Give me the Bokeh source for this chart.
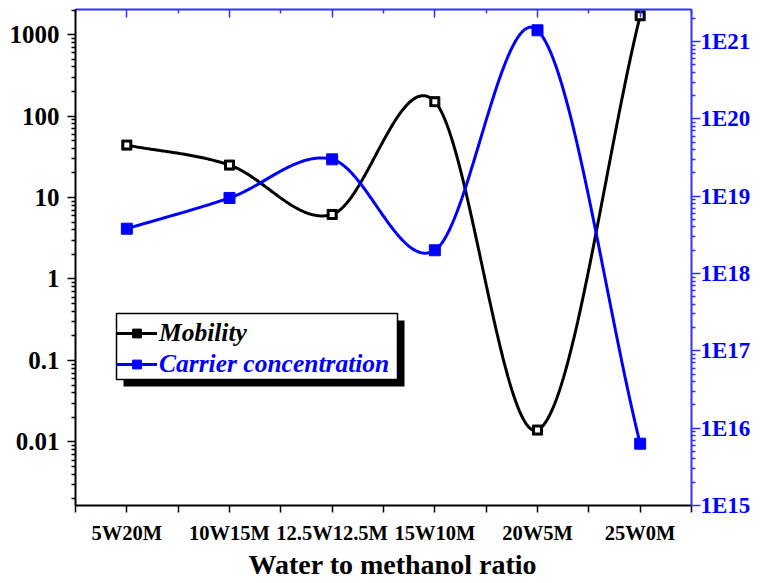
import numpy as np
from bokeh.plotting import figure
from bokeh.models import (Range1d, LogScale, LogAxis, LinearAxis, FixedTicker,
                          CustomJSTickFormatter, Legend, LegendItem, BoxAnnotation,
                          Title)
from bokeh.embed import file_html
from bokeh.resources import INLINE

# Sample series (x categories share one position index)
categories = ["5W20M", "10W15M", "12.5W12.5M", "15W10M", "20W5M", "25W0M"]
mobility = [44, 25, 6.2, 150, 0.014, 1700]                   # left axis
carrier = [3.8e18, 9.5e18, 3.0e19, 2.0e18, 1.4e21, 6.3e15]     # right axis

mobility_ticks = [0.01, 0.1, 1, 10, 100, 1000]
carrier_ticks = [1e15, 1e16, 1e17, 1e18, 1e19, 1e20, 1e21]

FONT = "Liberation Serif"
BLUE = "#0000ff"
AXIS_BLUE = "#3030ff"

W, H = 766, 583
BORDER_L, BORDER_R, BORDER_T, BORDER_B = 75, 75, 9, 78

X_RANGE = (0.5, len(categories) + 0.5)
LEFT_RANGE = (0.00166, 2030)
RIGHT_RANGE = (1e15, 2.6e21)


def smooth_curve(xs, ys, n_seg=80):
    """Cardinal (Catmull-Rom) Hermite curve through the points, in log-y space."""
    x = np.asarray(xs, float)
    v = np.log10(np.asarray(ys, float))
    m = np.empty_like(v)
    m[1:-1] = (v[2:] - v[:-2]) / (x[2:] - x[:-2])
    m[0] = (v[1] - v[0]) / (x[1] - x[0])
    m[-1] = (v[-1] - v[-2]) / (x[-1] - x[-2])
    xo, yo = [], []
    for i in range(len(x) - 1):
        h = x[i + 1] - x[i]
        t = np.linspace(0.0, 1.0, n_seg, endpoint=(i == len(x) - 2))
        h00 = 2 * t ** 3 - 3 * t ** 2 + 1
        h10 = t ** 3 - 2 * t ** 2 + t
        h01 = -2 * t ** 3 + 3 * t ** 2
        h11 = t ** 3 - t ** 2
        xo.append(x[i] + h * t)
        yo.append(h00 * v[i] + h10 * h * m[i] + h01 * v[i + 1] + h11 * h * m[i + 1])
    return np.concatenate(xo), 10 ** np.concatenate(yo)


xpos = np.arange(1, len(categories) + 1)

p = figure(width=W, height=H, y_axis_type="log",
           x_range=Range1d(*X_RANGE), y_range=Range1d(*LEFT_RANGE),
           min_border_left=BORDER_L, min_border_right=BORDER_R,
           min_border_top=BORDER_T, min_border_bottom=BORDER_B,
           output_backend="svg", toolbar_location=None)
p.outline_line_color = None
p.xgrid.visible = False
p.ygrid.visible = False
p.background_fill_color = "white"
p.border_fill_color = "white"

p.extra_y_ranges = {"carrier": Range1d(*RIGHT_RANGE)}
p.extra_y_scales = {"carrier": LogScale()}

# --- axes ---------------------------------------------------------------
x_ticker = FixedTicker(ticks=list(xpos),
                       minor_ticks=list(np.arange(0.5, len(categories) + 1, 1.0)))

xax = p.xaxis[0]
xax.ticker = x_ticker
xax.major_label_overrides = {int(x): c for x, c in zip(xpos, categories)}
xax.axis_line_color = "black"
xax.axis_line_width = 2
xax.major_tick_out = 7
xax.major_tick_in = 0
xax.minor_tick_out = 7
xax.minor_tick_in = 0
xax.major_tick_line_width = 1.5
xax.minor_tick_line_width = 1.5
xax.major_label_text_font = FONT
xax.major_label_text_font_style = "bold"
xax.major_label_text_font_size = "20.5px"
xax.major_label_text_color = "black"
xax.major_label_standoff = 9

# x-axis title, set a little right of the frame centre
x_title = Title(text="Water to methanol ratio", align="left", offset=173,
                text_font=FONT, text_font_style="bold", text_font_size="28px",
                text_color="black", standoff=0)
p.add_layout(x_title, "below")

minor_left = [m * 10.0 ** e for e in range(-3, 4) for m in range(2, 10)]
yax = p.yaxis[0]
yax.ticker = FixedTicker(ticks=mobility_ticks, minor_ticks=minor_left)
yax.formatter = CustomJSTickFormatter(code="""
    const e = Math.round(Math.log10(tick));
    return e >= 0 ? String(Math.pow(10, e)) : Math.pow(10, e).toFixed(-e);
""")
yax.axis_line_color = "black"
yax.axis_line_width = 2
yax.major_tick_out = 8
yax.major_tick_in = 0
yax.minor_tick_out = 4
yax.minor_tick_in = 0
yax.major_tick_line_width = 1.5
yax.minor_tick_line_width = 1.5
yax.major_label_text_font = FONT
yax.major_label_text_font_style = "bold"
yax.major_label_text_font_size = "25px"
yax.major_label_text_color = "black"
yax.major_label_standoff = 8

minor_right = [m * 10.0 ** e for e in range(15, 22) for m in range(2, 10)]
rax = LogAxis(y_range_name="carrier",
              ticker=FixedTicker(ticks=carrier_ticks, minor_ticks=minor_right),
              formatter=CustomJSTickFormatter(
                  code="return '1E' + Math.round(Math.log10(tick));"))
rax.axis_line_color = AXIS_BLUE
rax.axis_line_width = 2
rax.major_tick_line_color = AXIS_BLUE
rax.minor_tick_line_color = AXIS_BLUE
rax.major_tick_out = 9
rax.major_tick_in = 0
rax.minor_tick_out = 4
rax.minor_tick_in = 0
rax.major_tick_line_width = 1.5
rax.minor_tick_line_width = 1.5
rax.major_label_text_font = FONT
rax.major_label_text_font_style = "bold"
rax.major_label_text_font_size = "23px"
rax.major_label_text_color = BLUE
rax.major_label_standoff = 0
p.add_layout(rax, "right")

# top border: blue line with inward ticks, no labels
tax = LinearAxis(ticker=x_ticker, formatter=CustomJSTickFormatter(code="return '';"))
tax.axis_line_color = AXIS_BLUE
tax.axis_line_width = 2
tax.major_tick_line_color = AXIS_BLUE
tax.minor_tick_line_color = AXIS_BLUE
tax.major_tick_line_width = 1.5
tax.minor_tick_line_width = 1.5
tax.major_tick_in = 8
tax.major_tick_out = 0
tax.minor_tick_in = 4
tax.minor_tick_out = 0
tax.major_label_text_font_size = "1px"
tax.major_label_standoff = 0
p.add_layout(tax, "above")

# --- curves and markers -------------------------------------------------
xm, ym = smooth_curve(xpos, mobility)
xc, yc = smooth_curve(xpos, carrier)

r_mob_line = p.line(xm, ym, line_color="black", line_width=3)
r_car_line = p.line(xc, yc, line_color=BLUE, line_width=3, y_range_name="carrier")

r_mob_sq = p.scatter(xpos, mobility, marker="square", size=10,
                     fill_color="black", line_color="black")
p.scatter(xpos, mobility, marker="square", size=5,
          fill_color="white", line_color=None)
r_car_sq = p.scatter(xpos, carrier, marker="square", size=11,
                     fill_color=BLUE, line_color=BLUE, y_range_name="carrier")

# --- legend: shadowed box with one entry per colour ----------------------
BOX_L, BOX_T, BOX_R, BOX_B = 116, 313, 397, 379
SHADOW = 7
p.add_layout(BoxAnnotation(left=BOX_L + SHADOW, right=BOX_R + SHADOW,
                           top=BOX_T + SHADOW, bottom=BOX_B + SHADOW,
                           left_units="canvas", right_units="canvas",
                           top_units="canvas", bottom_units="canvas",
                           fill_color="black", fill_alpha=1, line_color=None))
p.add_layout(BoxAnnotation(left=BOX_L, right=BOX_R, top=BOX_T, bottom=BOX_B,
                           left_units="canvas", right_units="canvas",
                           top_units="canvas", bottom_units="canvas",
                           fill_color="white", fill_alpha=1,
                           line_color="black", line_width=1.5, line_alpha=1))


def entry(label, renderers, color, row_center):
    leg = Legend(items=[LegendItem(label=label, renderers=renderers)])
    leg.label_text_font = FONT
    leg.label_text_font_style = "bold italic"
    leg.label_text_font_size = "25.5px"
    leg.label_text_color = color
    leg.glyph_width = 41
    leg.glyph_height = 22
    leg.label_height = 30
    leg.label_standoff = 2
    leg.padding = 0
    leg.spacing = 0
    leg.margin = 0
    leg.background_fill_alpha = 0
    leg.border_line_color = None
    frame_bottom = H - BORDER_B
    leg.location = (BOX_L - BORDER_L, frame_bottom - (row_center + 15))
    return leg


p.add_layout(entry("Mobility", [r_mob_line, r_mob_sq], "black", 333))
p.add_layout(entry("Carrier concentration", [r_car_line, r_car_sq], BLUE, 364))

open("out.html", "w").write(file_html(p, INLINE))
